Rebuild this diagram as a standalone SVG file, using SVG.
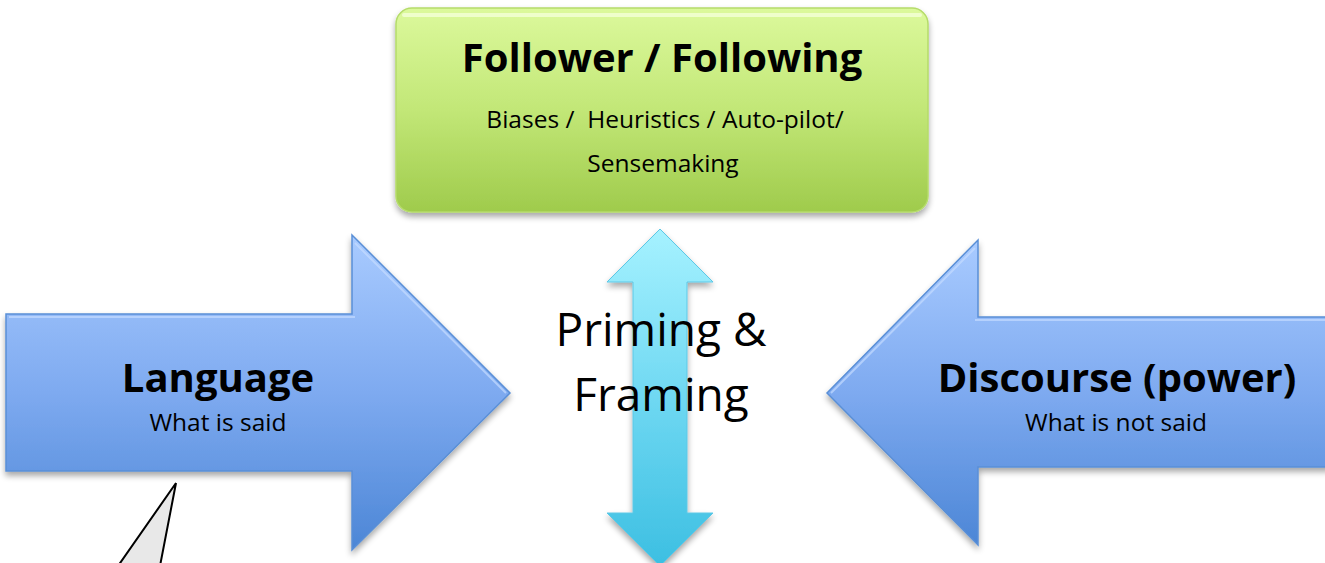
<svg xmlns="http://www.w3.org/2000/svg" width="1325" height="563" viewBox="0 0 1325 563">
  <defs>
    <linearGradient id="gGreen" x1="0" y1="0" x2="0" y2="1">
      <stop offset="0" stop-color="#dcf99c"/>
      <stop offset="0.5" stop-color="#c2e777"/>
      <stop offset="1" stop-color="#9fcb4c"/>
    </linearGradient>
    <linearGradient id="gBlue" x1="0" y1="0" x2="0" y2="1">
      <stop offset="0" stop-color="#a9cbff"/>
      <stop offset="0.5" stop-color="#7eaaf0"/>
      <stop offset="1" stop-color="#4c86d6"/>
    </linearGradient>
    <linearGradient id="gCyan" x1="0" y1="0" x2="0" y2="1">
      <stop offset="0" stop-color="#a6f2ff"/>
      <stop offset="0.5" stop-color="#6fd8f2"/>
      <stop offset="1" stop-color="#3cbfe2"/>
    </linearGradient>
    <filter id="shadow" x="-10%" y="-10%" width="120%" height="130%">
      <feGaussianBlur in="SourceAlpha" stdDeviation="3"/>
      <feOffset dx="0" dy="4" result="b"/>
      <feComponentTransfer><feFuncA type="linear" slope="0.35"/></feComponentTransfer>
      <feMerge><feMergeNode/><feMergeNode in="SourceGraphic"/></feMerge>
    </filter>
  </defs>
  <style>
    text { font-family: "Open Sans", "Noto Sans", sans-serif; fill: #000; text-anchor: middle; white-space: pre; }
    .title { font-weight: bold; font-size: 40px; }
    .sub { font-size: 24.5px; }
    .big { font-size: 46px; }
    .blue { fill: url(#gBlue); stroke: #5a8fd6; stroke-width: 1.5; filter: url(#shadow); }
    .bevel { fill: none; stroke: #c4dcff; stroke-width: 2; stroke-opacity: 0.7; }
  </style>

  <rect width="1325" height="563" fill="#ffffff"/>

  <!-- Follower / Following box -->
  <g id="follower">
    <rect x="396" y="8" width="532" height="204" rx="16" fill="url(#gGreen)" stroke="#b5dc6a" stroke-width="1.5" filter="url(#shadow)"/>
    <rect x="402" y="13" width="520" height="4" rx="2" fill="#f4ffd8" opacity="0.8"/>
    <text class="title" x="662" y="72">Follower / Following</text>
    <text class="sub" x="665" y="128" xml:space="preserve">Biases /  Heuristics / Auto-pilot/</text>
    <text class="sub" x="663" y="172">Sensemaking</text>
  </g>

  <!-- Language arrow -->
  <g id="language">
    <path class="blue" d="M6,314 L352,314 L352,235 L510,393 L352,550 L352,471 L6,471 Z"/>
    <path class="bevel" d="M9,317 L355,317 M355,243 L506,393"/>
    <text class="title" x="218" y="392">Language</text>
    <text class="sub" x="218" y="431">What is said</text>
  </g>

  <!-- Discourse arrow -->
  <g id="discourse">
    <path class="blue" d="M1330,317 L978,317 L978,240 L827,393 L978,545 L978,467 L1330,467 Z"/>
    <path class="bevel" d="M1330,320 L975,320 M975,248 L831,393"/>
    <text class="title" x="1117" y="392">Discourse (power)</text>
    <text class="sub" x="1116" y="431">What is not said</text>
  </g>

  <!-- Priming and framing double arrow -->
  <g id="priming">
    <path d="M660,229 L713,282 L687,282 L687,513 L713,513 L660,566 L607,513 L633,513 L633,282 L607,282 Z" fill="url(#gCyan)" stroke="#5cc8e6" stroke-width="1" filter="url(#shadow)"/>
    <text class="big" x="661" y="346">Priming &amp;</text>
    <text class="big" x="661" y="411">Framing</text>
  </g>

  <!-- Callout pointer -->
  <g id="callout">
    <path d="M118,566 L176,483 L160,566" fill="#e8e8e8" stroke="#000" stroke-width="2" stroke-linejoin="miter"/>
  </g>
</svg>
